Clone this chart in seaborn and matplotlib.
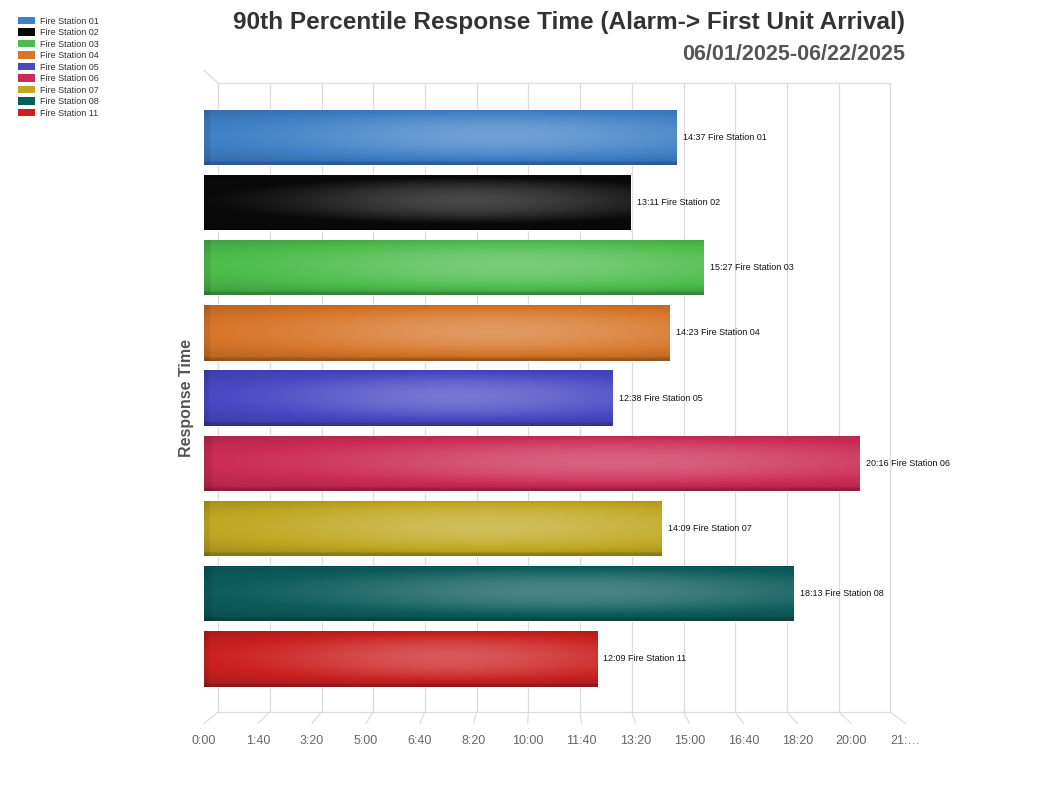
import numpy as np
import pandas as pd
import matplotlib
matplotlib.use("Agg")
import matplotlib.pyplot as plt
import seaborn as sns
from matplotlib.colors import to_rgb
from matplotlib.patches import Patch

# data (90th percentile, seconds)
stations = ["Fire Station 01", "Fire Station 02", "Fire Station 03", "Fire Station 04",
            "Fire Station 05", "Fire Station 06", "Fire Station 07", "Fire Station 08",
            "Fire Station 11"]
resp_labels = ["14:37", "13:11", "15:27", "14:23", "12:38", "20:16", "14:09", "18:13", "12:09"]
resp_seconds = [877, 791, 927, 863, 758, 1216, 849, 1093, 729]
bar_colors = ["#3f80c6", "#0a0a0a", "#4cbc4c", "#d7762a", "#4848c4",
              "#cc2c56", "#c0a822", "#0d5c5c", "#cc2020"]
tick_seconds = list(range(0, 1301, 100))
tick_labels = ["0:00", "1:40", "3:20", "5:00", "6:40", "8:20", "10:00", "11:40",
               "13:20", "15:00", "16:40", "18:20", "20:00", "21:\u2026"]

sns.set_theme(style="white")
plt.rcParams['font.family'] = ['Liberation Sans', 'DejaVu Sans']

df = pd.DataFrame({"Station": stations, "Seconds": resp_seconds})

fig = plt.figure(figsize=(10.48, 7.86), dpi=100)
ax = fig.add_axes([0.1947, 0.112, 0.669, 0.763])

sns.barplot(data=df, x="Seconds", y="Station", hue="Station", palette=bar_colors,
            orient="h", width=0.85, saturation=1, legend=False, ax=ax, zorder=2)

# glossy shading on each bar
nv, nu = 80, 240
v = np.linspace(0, 1, nv)[:, None]
u = np.linspace(0, 1, nu)[None, :]
vert = np.clip(1 - ((v - 0.47) / 0.55) ** 2, 0, 1)
horiz = np.exp(-((u - 0.62) / 0.45) ** 2)
shade = -0.2 + 0.45 * vert * (0.35 + 0.65 * horiz)
shade = shade - 0.12 * (v > 0.94) - 0.08 * (u < 0.01)
for p, col in zip(ax.patches, bar_colors):
    base = np.array(to_rgb(col))
    s = shade[..., None]
    img = np.where(s > 0, base + (1 - base) * s, base * (1 + s))
    x0, y0, w, h = p.get_x(), p.get_y(), p.get_width(), p.get_height()
    im = ax.imshow(np.clip(img, 0, 1), extent=[x0, x0 + w, y0 + h, y0],
                   aspect="auto", zorder=3, interpolation="bilinear")
    im.set_clip_path(p)

for i, (sec, lab, st) in enumerate(zip(resp_seconds, resp_labels, stations)):
    ax.annotate(f"{lab} {st}", (sec, i), xytext=(4.5, 0), textcoords="offset points",
                va="center", ha="left", fontsize=6.5, color="#111111", zorder=4)

ax.set_xlim(0, 1300)
ax.set_ylim(8.6, -0.6)
ax.set_xticks(tick_seconds)
ax.set_xticklabels(tick_labels, fontsize=9, color="#666666")
ax.tick_params(axis="x", length=0, pad=27)
ax.set_yticks([])
ax.set_xlabel("")
ax.set_ylabel("")
for sp in ax.spines.values():
    sp.set_visible(False)

# pseudo-3D back wall and floor (back plane is shifted/shrunk from the front)
grid_col = "#dcdcdc"
y_top, y_floor, y_front = -0.83, 8.815, 8.99
back = [26 + 0.959 * s for s in tick_seconds]
for s, sb in zip(tick_seconds, back):
    ax.plot([sb, sb], [y_top, y_floor], color=grid_col, lw=0.9, zorder=0, clip_on=False)
    ax.plot([sb, s], [y_floor, y_front], color=grid_col, lw=0.9, zorder=0, clip_on=False)
ax.plot([back[0], back[-1]], [y_floor, y_floor], color=grid_col, lw=0.9, zorder=0, clip_on=False)
ax.plot([back[0], back[-1]], [y_top, y_top], color=grid_col, lw=0.9, zorder=0, clip_on=False)
ax.plot([back[0], 0], [y_top, y_top - 0.2], color=grid_col, lw=0.9, zorder=0, clip_on=False)

fig.text(0.8635, 0.972, "90th Percentile Response Time (Alarm-> First Unit Arrival)",
         ha="right", va="center", fontsize=17.6, fontweight="bold", color="#333333")
fig.text(0.8635, 0.931, "06/01/2025-06/22/2025", ha="right", va="center",
         fontsize=15.5, fontweight="bold", color="#555555")
fig.text(187 / 1048, 1 - 398 / 786, "Response Time", rotation=90, ha="center",
         va="center", fontsize=11.5, fontweight="bold", color="#555555")

handles = [Patch(facecolor=c, edgecolor="none") for c in bar_colors]
fig.legend(handles, stations, loc="upper left", bbox_to_anchor=(0.0172, 0.979),
           frameon=False, fontsize=6.5, handlelength=1.9, handleheight=0.9,
           handletextpad=0.5, labelspacing=0.28, borderpad=0, borderaxespad=0,
           labelcolor="#333333")

fig.savefig("out.png", dpi=100)
